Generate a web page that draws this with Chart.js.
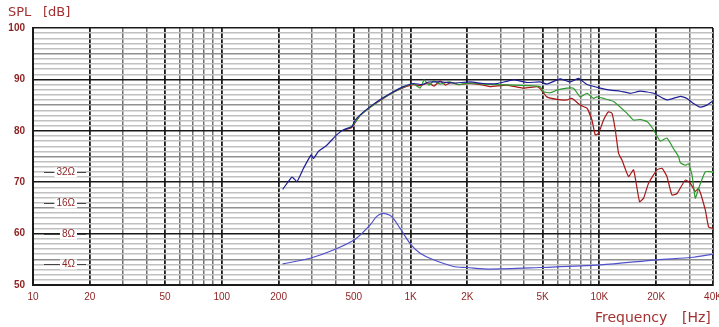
<!DOCTYPE html>
<html>
<head>
<meta charset="utf-8">
<script src="https://cdn.jsdelivr.net/npm/chart.js@4"></script>
<style>
  html, body { margin: 0; padding: 0; background: #fff; }
  #wrap { width: 719px; height: 327px; }
</style>
</head>
<body>
<div id="wrap"><canvas id="splChart" width="719" height="327"></canvas></div>
<script>
// tick positions and labels
const xTickValues = [10,20,30,40,50,60,70,80,90,100,200,300,400,500,600,700,800,900,
  1000,2000,3000,4000,5000,6000,7000,8000,9000,10000,20000,30000,40000];
const xTickLabels = {10:'10',20:'20',50:'50',100:'100',200:'200',500:'500',1000:'1K',
  2000:'2K',5000:'5K',10000:'10K',20000:'20K',40000:'40K'};
const yTickValues = Array.from({ length: 51 }, (_, i) => 50 + i);
const impedanceMarks = [72, 66, 60, 54];
const impedanceNames = ['32Ω', '16Ω', '8Ω', '4Ω'];

// SPL, on axis (blue)
const blueFreq = [210,236,250,271,297,306,325,360,406,441,489,509,541,611,704,811,916,1036,
  1150,1250,1435,1700,2070,2426,2866,3510,4132,4861,5275,6209,7015,7762,8596,10116,11430,
  12914,14590,16480,19380,22800,26840,29120,31560,34270,37150,40000];
const blueSpl = [68.6,71.0,70.1,72.7,75.3,74.6,76.0,77.2,79.2,80.2,80.8,82.1,83.1,84.7,86.3,87.6,88.6,89.2,
  89.0,89.5,89.5,89.3,89.5,89.2,89.2,89.9,89.4,89.5,89.1,90.1,89.5,90.2,89.0,88.3,87.9,
  87.7,87.3,87.7,87.3,86.0,86.7,86.3,85.3,84.6,85.0,85.8];

// SPL, off axis (green)
const greenFreq = [450,489,541,611,704,811,916,1036,1124,1180,1250,1330,1435,1600,1800,2070,2426,
  2866,3510,4132,4861,5061,5492,5962,6736,7298,7918,8596,9319,9713,10527,11900,14010,15180,
  16480,17880,19380,21020,22800,24730,26280,26840,28530,29700,30960,32230,33560,36410,39520,40000];
const greenSpl = [80.3,80.9,83.0,84.6,86.2,87.5,88.5,89.1,88.3,89.9,88.9,89.7,89.1,89.5,89.0,89.3,89.1,
  89.0,88.9,88.8,88.6,87.6,87.4,87.9,88.3,88.3,86.6,87.3,86.3,86.6,86.3,85.7,83.4,82.1,
  82.2,81.8,80.2,78.0,78.6,76.5,75.0,73.8,73.3,73.6,71.4,66.9,68.8,72.0,72.0,71.8];

// SPL, further off axis (red)
const redFreq = [450,489,541,611,704,811,916,1036,1124,1250,1330,1435,1530,1640,1800,2070,2426,
  2642,3238,3965,4670,4861,5275,5962,6736,7158,7918,8596,9137,9513,9904,10527,11190,11666,
  12145,12645,13180,14280,15180,16330,17150,18230,20200,21460,22800,24250,25780,28530,30320,
  32230,33560,36410,37910,40000];
const redSpl = [80.2,80.7,83.0,84.6,86.1,87.5,88.4,89.0,88.8,89.3,88.7,89.7,88.9,89.4,89.0,89.2,88.9,
  88.6,88.9,88.3,88.6,88.2,86.6,86.1,86.0,86.3,85.0,84.4,82.1,79.2,79.5,82.1,83.7,83.4,
  80.2,75.6,74.3,71.1,72.4,66.2,66.9,69.8,72.4,72.7,71.1,67.5,67.8,70.4,69.8,
  68.2,68.8,64.6,61.3,61.0];

// impedance, drawn on the dB grid (4/8/16/32 ohm marks)
const impFreq = [210,294,390,509,611,660,704,750,796,881,1007,1124,1322,1688,1988,2642,4861,10116,20200,31560,40000];
const impVal = [54.1,55.2,56.8,58.9,61.7,63.3,63.9,63.8,63.3,61.0,57.8,56.2,54.9,53.6,53.4,53.1,53.4,53.9,54.9,55.4,56.0];

const toPoints = (xs, ys) => xs.map((x, i) => ({ x: x, y: ys[i] }));
const labelRed = '#8e1f1f';

const decorPlugin = {
    id: 'decor',
    beforeDraw(chart) {
        const c = chart.ctx;
        c.save();
        c.fillStyle = '#fff';
        c.fillRect(0, 0, chart.width, chart.height);
        c.restore();
    },
    afterDraw(chart) {
        const c = chart.ctx;
        const y = chart.scales.y;
        c.save();
        // impedance marks
        c.font = '10px "Liberation Sans", Arial, sans-serif';
        c.textAlign = 'right';
        c.textBaseline = 'middle';
        impedanceMarks.forEach((v, i) => {
            const py = Math.round(y.getPixelForValue(v)) + 0.5;
            c.strokeStyle = '#444';
            c.lineWidth = 1;
            c.beginPath();
            c.moveTo(44, py); c.lineTo(86, py);
            c.stroke();
            const w = c.measureText(impedanceNames[i]).width;
            c.fillStyle = '#fff';
            c.fillRect(75 - w - 2, py - 5, w + 4, 10);
            c.fillStyle = labelRed;
            c.fillText(impedanceNames[i], 75, py);
        });
        // axis titles
        c.textAlign = 'left';
        c.font = '13px "DejaVu Sans", sans-serif';
        c.fillStyle = '#a33030';
        c.fillText('SPL', 8, 13);
        c.fillText('[dB]', 43, 13);
        c.font = '14px "DejaVu Sans", sans-serif';
        c.fillText('Frequency', 595, 318);
        c.fillText('[Hz]', 682, 318);
        c.restore();
    }
};

new Chart(document.getElementById('splChart'), {
    type: 'line',
    data: {
        datasets: [
            { label: 'Impedance', data: toPoints(impFreq, impVal), borderColor: '#5050cc', borderWidth: 1.2, tension: 0.3 },
            { label: 'On axis', data: toPoints(blueFreq, blueSpl), borderColor: '#1e1e96', borderWidth: 1.2, tension: 0.15 },
            { label: 'Off axis 1', data: toPoints(greenFreq, greenSpl), borderColor: '#2e9a2e', borderWidth: 1.2, tension: 0.15 },
            { label: 'Off axis 2', data: toPoints(redFreq, redSpl), borderColor: '#a81818', borderWidth: 1.2, tension: 0.15 }
        ]
    },
    options: {
        responsive: false,
        animation: false,
        events: [],
        layout: { padding: { top: 28, right: 6, left: 0, bottom: 0 } },
        elements: { point: { radius: 0 } },
        plugins: { legend: { display: false }, tooltip: { enabled: false } },
        scales: {
            x: {
                type: 'logarithmic',
                min: 10,
                max: 40000,
                afterBuildTicks: scale => { scale.ticks = xTickValues.map(v => ({ value: v })); },
                afterFit: scale => { scale.height = 42; scale.paddingLeft = 0; scale.paddingRight = 0; },
                ticks: {
                    autoSkip: false,
                    maxRotation: 0,
                    padding: 6,
                    color: labelRed,
                    font: { family: '"Liberation Sans", Arial, sans-serif', size: 10 },
                    callback: value => xTickLabels[value] || ''
                },
                grid: {
                    drawTicks: false,
                    color: ctx => (xTickLabels[ctx.tick.value] ? '#1a1a1a' : '#707070'),
                    lineWidth: ctx => (xTickLabels[ctx.tick.value] ? 1.8 : 1.5)
                },
                border: { display: true, color: '#1a1a1a', width: 2 }
            },
            y: {
                min: 50,
                max: 100,
                afterBuildTicks: scale => { scale.ticks = yTickValues.map(v => ({ value: v })); },
                afterFit: scale => { scale.width = 33; scale.paddingTop = 0; scale.paddingBottom = 0; },
                ticks: {
                    autoSkip: false,
                    padding: 8,
                    color: labelRed,
                    font: { family: '"Liberation Sans", Arial, sans-serif', size: 10, weight: 'bold' },
                    callback: value => (value % 10 === 0 ? String(value) : '')
                },
                grid: {
                    drawTicks: false,
                    color: ctx => {
                        const v = ctx.tick.value;
                        if (v % 10 === 0) return '#1a1a1a';
                        if (v % 5 === 0) return '#909090';
                        return '#c0c0c0';
                    },
                    lineWidth: ctx => (ctx.tick.value % 10 === 0 ? 1.6 : 1.4)
                },
                border: { display: true, color: '#1a1a1a', width: 2 }
            }
        }
    },
    plugins: [decorPlugin]
});
</script>
</body>
</html>
